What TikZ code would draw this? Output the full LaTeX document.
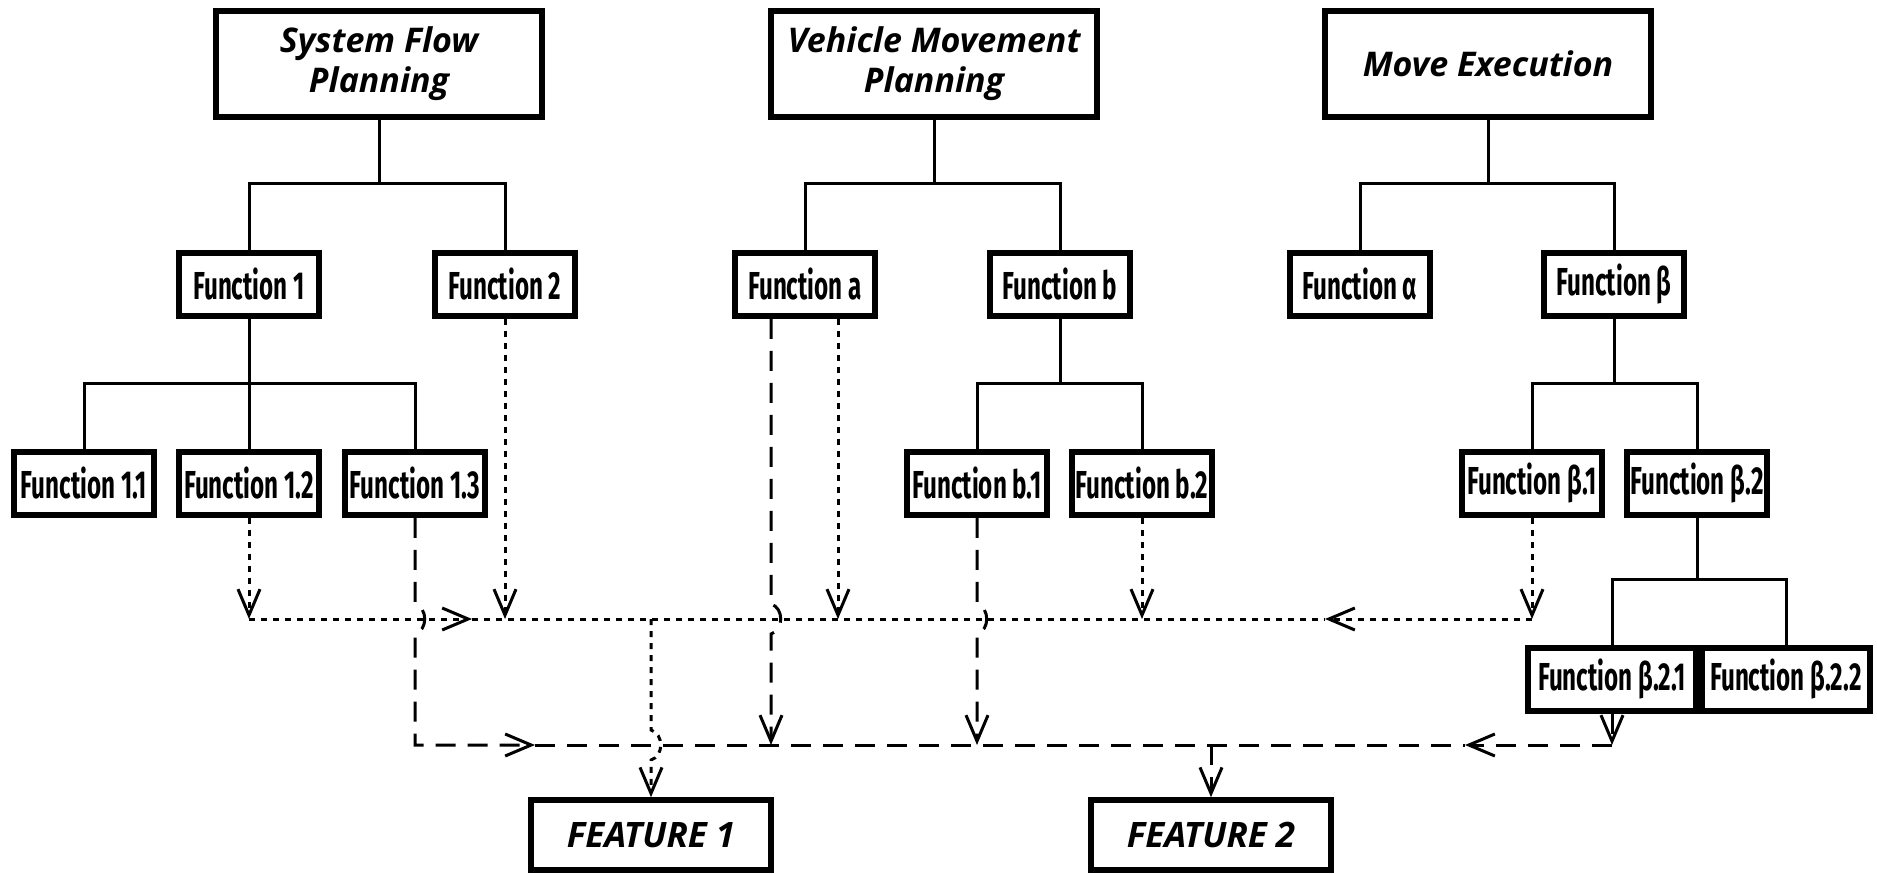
\documentclass[tikz,border=0pt]{standalone}
\usepackage{fontspec}
\usetikzlibrary{arrows.meta,calc}
\newfontfamily\fnfont[FakeStretch=0.62]{Fira Sans}
\newfontfamily\ttlfont{Open Sans}
\tikzset{
  box/.style={draw, line width=5.5pt, fill=white, inner sep=0pt, align=center},
  topbox/.style={box, minimum width=326pt, minimum height=106pt,
    font=\ttlfont\bfseries\itshape\fontsize{34}{40}\selectfont},
  funcbox/.style={box, minimum width=140pt, minimum height=63pt,
    font=\fnfont\bfseries\fontsize{39}{42}\selectfont},
  featbox/.style={box, minimum width=240pt, minimum height=70pt,
    font=\ttlfont\bfseries\itshape\fontsize{35}{40}\selectfont},
  tree/.style={line width=3pt},
  dotline/.style={line width=3pt, dash pattern=on 6pt off 6pt},
  dashline/.style={line width=3pt, dash pattern=on 20pt off 12pt},
  barb/.style={-{Straight Barb[length=26pt,width=22pt,line width=3pt]}},
  jumpover/.style={insert path={-- ($(#1)+(0,-15)$) .. controls ($(#1)+(13,-11)$) and ($(#1)+(13,11)$) .. ($(#1)+(0,15)$)}}
}
\begin{document}
\begin{tikzpicture}[x=1pt,y=-1pt]
\fill[white] (0,0) rectangle (1877,873);
\useasboundingbox (0,0) rectangle (1877,873);

% top level
\node[topbox] (sfp) at (379,64) {System Flow\\Planning};
\node[topbox] (vmp) at (934,64) {Vehicle Movement\\Planning};
\node[topbox] (me)  at (1488,64) {Move Execution};

% level 1
\node[funcbox] (f1)  at (249,284.5) {Function 1};
\node[funcbox] (f2)  at (505,284.5) {Function 2};
\node[funcbox] (fa)  at (805,284.5) {Function a};
\node[funcbox] (fb)  at (1060,284.5) {Function b};
\node[funcbox] (fal) at (1360,284.5) {Function α};
\node[funcbox] (fbe) at (1614,284.5) {Function β};

% level 2
\node[funcbox] (f11)  at (84,483.5) {Function 1.1};
\node[funcbox] (f12)  at (249,483.5) {Function 1.2};
\node[funcbox] (f13)  at (415,483.5) {Function 1.3};
\node[funcbox] (fb1)  at (977,483.5) {Function b.1};
\node[funcbox] (fb2)  at (1142,483.5) {Function b.2};
\node[funcbox] (fbe1) at (1532,483.5) {Function β.1};
\node[funcbox] (fbe2) at (1697,483.5) {Function β.2};

% level 3
\node[funcbox, minimum width=168pt] (fbe21) at (1612,679.5) {Function β.2.1};
\node[funcbox, minimum width=168pt] (fbe22) at (1786,679.5) {Function β.2.2};

% features
\node[featbox] (feat1) at (651,835) {FEATURE 1};
\node[featbox] (feat2) at (1211,835) {FEATURE 2};

% tree connectors
\draw[tree] (sfp.south) -- (sfp.south |- 0,183);
\draw[tree] (f1.north) |- (sfp.south |- 0,183) -| (f2.north);
\draw[tree] (vmp.south) -- (vmp.south |- 0,183);
\draw[tree] (fa.north) |- (vmp.south |- 0,183) -| (fb.north);
\draw[tree] (me.south) -- (me.south |- 0,183);
\draw[tree] (fal.north) |- (me.south |- 0,183) -| (fbe.north);

\draw[tree] (f1.south) -- (f12.north);
\draw[tree] (f11.north) |- (f1.south |- 0,383) -| (f13.north);
\draw[tree] (fb.south) -- (fb.south |- 0,383);
\draw[tree] (fb1.north) |- (fb.south |- 0,383) -| (fb2.north);
\draw[tree] (fbe.south) -- (fbe.south |- 0,383);
\draw[tree] (fbe1.north) |- (fbe.south |- 0,383) -| (fbe2.north);
\draw[tree] (fbe2.south) -- (fbe2.south |- 0,579);
\draw[tree] (fbe21.north) |- (fbe2.south |- 0,579) -| (fbe22.north);

% bus coordinates
\coordinate (dotL) at (f12.south |- 0,619);
\coordinate (dotR) at (fbe1.south |- 0,619);
\coordinate (dotA1) at (472,619);
\coordinate (dotA2) at (1325,619);
\coordinate (dotF) at (feat1.north |- 0,619);
\coordinate (dshL) at (f13.south |- 0,745);
\coordinate (dshR) at (fbe21.south |- 0,745);
\coordinate (dshA1) at (535,745);
\coordinate (dshA2) at (1465,745);
\coordinate (dshF) at (feat2.north |- 0,745);
\coordinate (faDash) at ([xshift=-34pt]fa.south);
\coordinate (faDot) at ([xshift=33pt]fa.south);
\coordinate (h13) at (f13.south |- dotL);
\coordinate (hfa) at (faDash |- dotL);
\coordinate (hfb1) at (fb1.south |- dotL);
\coordinate (hF1) at (feat1.north |- dshL);

% dotted flows
\draw[dotline,barb] (f12.south) -- (dotL);
\draw[dotline,barb] (f2.south) -- (f2.south |- dotL);
\draw[dotline,barb] (faDot) -- (faDot |- dotL);
\draw[dotline,barb] (fb2.south) -- (fb2.south |- dotL);
\draw[dotline,barb] (fbe1.south) -- (dotR);
\draw[dotline,barb] (dotL) -- (dotA1);
\draw[dotline] (dotA1) -- (dotA2);
\draw[dotline,barb] (dotR) -- (dotA2);
\draw[dotline,barb] (dotF) [jumpover=hF1] -- (feat1.north);

% dashed flows
\draw[dashline,barb] (f13.south) [jumpover=h13] -- (dshL) -- (dshA1);
\draw[dashline] (dshA1) -- (dshA2);
\draw[dashline,barb] (dshR) -- (dshA2);
\draw[dashline,barb] (fbe21.south) -- (dshR);
\draw[dashline,barb] (faDash) [jumpover=hfa] -- (faDash |- dshL);
\draw[dashline,barb] (fb1.south) [jumpover=hfb1] -- (fb1.south |- dshL);
\draw[dashline,barb] (dshF) -- (feat2.north);
\end{tikzpicture}
\end{document}
